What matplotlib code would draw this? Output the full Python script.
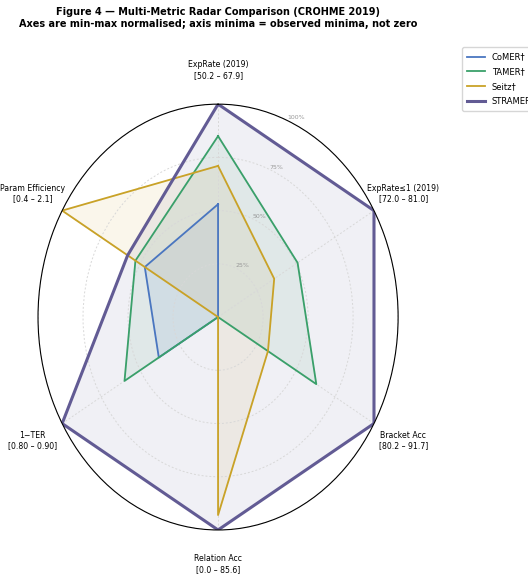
import numpy as np
import matplotlib
matplotlib.use("Agg")
import matplotlib.pyplot as plt

# axes (clockwise from top) and their observed ranges
axis_names = ["ExpRate (2019)", "ExpRate≤1 (2019)", "Bracket Acc",
              "Relation Acc", "1−TER", "Param Efficiency"]
axis_ranges = ["[50.2 – 67.9]", "[72.0 – 81.0]", "[80.2 – 91.7]",
               "[0.0 – 85.6]", "[0.80 – 0.90]", "[0.4 – 2.1]"]

# min-max normalised scores
comer = [0.53, 0.0, 0.0, 0.0, 0.38, 0.47]
tamer = [0.85, 0.51, 0.63, 0.0, 0.60, 0.53]
seitz = [0.71, 0.36, 0.32, 0.93, 0.0, 1.0]
stramer = [1.0, 1.0, 1.0, 1.0, 1.0, 0.58]

series = [("CoMER†", comer, "#4a76c0", 1.3),
          ("TAMER†", tamer, "#3aa06a", 1.3),
          ("Seitz†", seitz, "#c9a227", 1.3),
          ("STRAMER", stramer, "#625b94", 2.2)]

ring_ticks = [0.25, 0.5, 0.75, 1.0]
ring_labels = ["25%", "50%", "75%", "100%"]

angles = np.linspace(0, 2 * np.pi, len(axis_names), endpoint=False)

fig = plt.figure(figsize=(5.28, 5.77), dpi=100)
ax = fig.add_axes([0.072, 0.0815, 0.682, 0.738], projection="polar")
ax.set_aspect("auto")
ax.set_theta_offset(np.pi / 2)
ax.set_theta_direction(-1)

for name, vals, color, lw in series:
    v = vals + vals[:1]
    a = np.concatenate([angles, angles[:1]])
    ax.plot(a, v, color=color, lw=lw, label=name)
    ax.fill(a, v, color=color, alpha=0.09)

ax.set_ylim(0, 1)
ax.set_yticks(ring_ticks)
ax.set_yticklabels(ring_labels, fontsize=4.5, color="#999999")
ax.set_rlabel_position(22.5)
ax.set_xticks(angles)
ax.set_xticklabels([f"{n}\n{r}" for n, r in zip(axis_names, axis_ranges)],
                   fontsize=5.6)
ax.tick_params(axis="x", pad=14)
ax.grid(True, color="#d8d8d8", linestyle=(0, (2, 2)), linewidth=0.7)
ax.spines["polar"].set_color("black")
ax.spines["polar"].set_linewidth(0.8)

fig.text(0.413, 0.988,
         "Figure 4 — Multi-Metric Radar Comparison (CROHME 2019)\n"
         "Axes are min-max normalised; axis minima = observed minima, not zero",
         ha="center", va="top", fontsize=7, fontweight="bold")

fig.legend(loc="upper left", bbox_to_anchor=(0.867, 0.925), fontsize=6,
           frameon=True, handlelength=2.2, borderpad=0.6, labelspacing=0.7)

fig.savefig("out.png", dpi=100)
